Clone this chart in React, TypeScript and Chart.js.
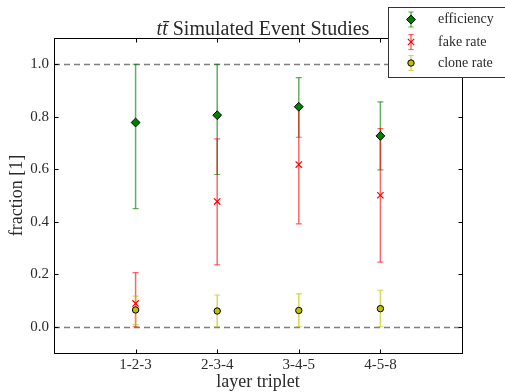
import React, { useEffect, useRef } from 'react';
import { Chart, registerables } from 'chart.js';

Chart.register(...registerables);

const categories = ['1-2-3', '2-3-4', '3-4-5', '4-5-8'];
const xPositions = [1, 2, 3, 4];

const efficiency = [0.778, 0.806, 0.838, 0.727];
const efficiencyLow = [0.45, 0.58, 0.722, 0.598];
const efficiencyHigh = [1.0, 1.0, 0.949, 0.857];

const fakeRate = [0.089, 0.477, 0.618, 0.501];
const fakeRateLow = [0.0, 0.236, 0.392, 0.246];
const fakeRateHigh = [0.206, 0.716, 0.838, 0.755];

const cloneRate = [0.064, 0.06, 0.062, 0.069];
const cloneRateLow = [0.008, 0.0, 0.0, 0.0];
const cloneRateHigh = [0.117, 0.121, 0.125, 0.139];

const yTicks = [0, 0.2, 0.4, 0.6, 0.8, 1.0];
const referenceLines = [0, 1];

const titleItalic = 'tt\u0304';
const titleRest = ' Simulated Event Studies';
const xTitle = 'layer triplet';
const yTitle = 'fraction [1]';

const SERIF = '"Liberation Serif", "Times New Roman", serif';
const TEXT = '#2a2a2a';

type Series = {
  label: string;
  values: number[];
  low: number[];
  high: number[];
  style: string;
  radius: number;
  fill: string;
  stroke: string;
  borderWidth: number;
  barColor: string;
};

const series: Series[] = [
  { label: 'efficiency', values: efficiency, low: efficiencyLow, high: efficiencyHigh, style: 'rectRot', radius: 4.4, fill: '#008000', stroke: '#000000', borderWidth: 1, barColor: 'rgba(0,128,0,0.62)' },
  { label: 'fake rate', values: fakeRate, low: fakeRateLow, high: fakeRateHigh, style: 'crossRot', radius: 4.5, fill: '#ff0000', stroke: '#ff0000', borderWidth: 1.2, barColor: 'rgba(255,0,0,0.6)' },
  { label: 'clone rate', values: cloneRate, low: cloneRateLow, high: cloneRateHigh, style: 'circle', radius: 3.2, fill: '#bfbf00', stroke: '#000000', borderWidth: 1, barColor: 'rgba(191,191,0,0.62)' },
];

function drawMarker(ctx: CanvasRenderingContext2D, s: Series, x: number, y: number) {
  ctx.save();
  ctx.beginPath();
  const r = s.radius;
  if (s.style === 'rectRot') {
    ctx.moveTo(x - r, y);
    ctx.lineTo(x, y - r);
    ctx.lineTo(x + r, y);
    ctx.lineTo(x, y + r);
    ctx.closePath();
    ctx.fillStyle = s.fill;
    ctx.fill();
    ctx.lineWidth = s.borderWidth;
    ctx.strokeStyle = s.stroke;
    ctx.stroke();
  } else if (s.style === 'crossRot') {
    const o = r * Math.SQRT1_2;
    ctx.moveTo(x - o, y - o);
    ctx.lineTo(x + o, y + o);
    ctx.moveTo(x - o, y + o);
    ctx.lineTo(x + o, y - o);
    ctx.lineWidth = s.borderWidth;
    ctx.strokeStyle = s.stroke;
    ctx.stroke();
  } else {
    ctx.arc(x, y, r, 0, Math.PI * 2);
    ctx.fillStyle = s.fill;
    ctx.fill();
    ctx.lineWidth = s.borderWidth;
    ctx.strokeStyle = s.stroke;
    ctx.stroke();
  }
  ctx.restore();
}

function drawErrorBar(ctx: CanvasRenderingContext2D, color: string, x: number, yTop: number, yBot: number, cap: number) {
  ctx.save();
  ctx.strokeStyle = color;
  ctx.lineWidth = 1.5;
  ctx.beginPath();
  ctx.moveTo(x, yTop);
  ctx.lineTo(x, yBot);
  ctx.stroke();
  ctx.lineWidth = 1.2;
  ctx.beginPath();
  ctx.moveTo(x - cap, yTop);
  ctx.lineTo(x + cap, yTop);
  ctx.moveTo(x - cap, yBot);
  ctx.lineTo(x + cap, yBot);
  ctx.stroke();
  ctx.restore();
}

const decorPlugin = {
  id: 'decor',
  beforeDatasetsDraw(chart: any) {
    const { ctx, chartArea, scales } = chart;
    const xs = scales.x;
    const ys = scales.y;
    ctx.save();
    ctx.beginPath();
    ctx.rect(chartArea.left, chartArea.top, chartArea.right - chartArea.left, chartArea.bottom - chartArea.top);
    ctx.clip();
    ctx.strokeStyle = '#7f7f7f';
    ctx.lineWidth = 1.6;
    ctx.setLineDash([6, 4]);
    referenceLines.forEach((v) => {
      const py = Math.round(ys.getPixelForValue(v)) + 0.5;
      ctx.beginPath();
      ctx.moveTo(chartArea.left, py);
      ctx.lineTo(chartArea.right, py);
      ctx.stroke();
    });
    ctx.setLineDash([]);
    series.forEach((s) => {
      s.values.forEach((_, i) => {
        const px = xs.getPixelForValue(xPositions[i]);
        drawErrorBar(ctx, s.barColor, px, ys.getPixelForValue(s.high[i]), ys.getPixelForValue(s.low[i]), 3);
      });
    });
    ctx.restore();
  },
  afterDatasetsDraw(chart: any) {
    const { ctx, chartArea, scales } = chart;
    const xs = scales.x;
    const ys = scales.y;
    const l = Math.round(chartArea.left) + 0.5;
    const r = Math.round(chartArea.right) + 0.5;
    const t = Math.round(chartArea.top) + 0.5;
    const b = Math.round(chartArea.bottom) + 0.5;
    ctx.save();
    ctx.strokeStyle = '#000';
    ctx.lineWidth = 1;
    ctx.strokeRect(l, t, r - l, b - t);
    ctx.beginPath();
    const tl = 4;
    yTicks.forEach((v) => {
      const py = Math.round(ys.getPixelForValue(v)) + 0.5;
      ctx.moveTo(l, py);
      ctx.lineTo(l + tl, py);
      ctx.moveTo(r, py);
      ctx.lineTo(r - tl, py);
    });
    xPositions.forEach((v) => {
      const px = Math.round(xs.getPixelForValue(v)) + 0.5;
      ctx.moveTo(px, b);
      ctx.lineTo(px, b - tl);
      ctx.moveTo(px, t);
      ctx.lineTo(px, t + tl);
    });
    ctx.stroke();
    ctx.restore();
  },
  afterDraw(chart: any) {
    const { ctx, chartArea } = chart;
    ctx.save();
    const italicFont = `italic 20px ${SERIF}`;
    const normalFont = `20px ${SERIF}`;
    ctx.font = italicFont;
    const w1 = ctx.measureText(titleItalic).width;
    ctx.font = normalFont;
    const w2 = ctx.measureText(titleRest).width;
    const cx = (chartArea.left + chartArea.right) / 2 + 5;
    const startX = cx - (w1 + w2) / 2;
    const baseY = 35;
    ctx.fillStyle = TEXT;
    ctx.textBaseline = 'alphabetic';
    ctx.textAlign = 'left';
    ctx.font = italicFont;
    ctx.fillText(titleItalic, startX, baseY);
    ctx.font = normalFont;
    ctx.fillText(titleRest, startX + w1, baseY);

    const bx = 388.5;
    const by = 7.5;
    const bw = 130;
    const bh = 70;
    ctx.fillStyle = '#ffffff';
    ctx.fillRect(bx, by, bw, bh);
    ctx.strokeStyle = '#333333';
    ctx.lineWidth = 1;
    ctx.strokeRect(bx, by, bw, bh);
    const rows = [19.5, 42, 63];
    series.forEach((s, i) => {
      const my = rows[i];
      const mx = 411;
      drawErrorBar(ctx, s.barColor, mx, my - 7.5, my + 7.5, 2.7);
      drawMarker(ctx, s, mx, my);
      ctx.fillStyle = TEXT;
      ctx.font = `14px ${SERIF}`;
      ctx.textBaseline = 'middle';
      ctx.textAlign = 'left';
      ctx.fillText(s.label, 438, my);
    });
    ctx.restore();
  },
};

export default function App() {
  const canvasRef = useRef<HTMLCanvasElement | null>(null);

  useEffect(() => {
    const canvas = canvasRef.current;
    if (!canvas) return;
    const datasets = series.map((s) => ({
      label: s.label,
      data: s.values.map((v, i) => ({ x: xPositions[i], y: v })),
      pointStyle: s.style,
      pointRadius: s.radius,
      pointBackgroundColor: s.fill,
      pointBorderColor: s.stroke,
      pointBorderWidth: s.borderWidth,
      showLine: false,
    }));
    const chart = new Chart(canvas, {
      type: 'scatter',
      data: { datasets },
      plugins: [decorPlugin],
      options: {
        responsive: false,
        animation: false,
        events: [],
        layout: { padding: { top: 38, right: 43, left: 0, bottom: 0 } },
        plugins: {
          legend: { display: false },
          tooltip: { enabled: false },
          title: { display: false },
        },
        scales: {
          x: {
            type: 'linear',
            min: 0,
            max: 5,
            afterBuildTicks: (s: any) => {
              s.ticks = xPositions.map((v) => ({ value: v }));
            },
            afterFit: (s: any) => {
              s.height = 39;
            },
            ticks: {
              callback: (v: any) => categories[xPositions.indexOf(Number(v))] ?? '',
              font: { family: SERIF, size: 15 },
              color: TEXT,
              padding: 3,
              maxRotation: 0,
              autoSkip: false,
            },
            grid: { display: false, drawTicks: false, tickLength: 0 },
            border: { display: false },
            title: {
              display: true,
              text: xTitle,
              font: { family: SERIF, size: 18 },
              color: TEXT,
              padding: { top: 0, bottom: -1.5 },
            },
          },
          y: {
            type: 'linear',
            min: -0.1,
            max: 1.1,
            afterBuildTicks: (s: any) => {
              s.ticks = yTicks.map((v) => ({ value: v }));
            },
            afterFit: (s: any) => {
              s.width = 54;
            },
            ticks: {
              callback: (v: any) => Number(v).toFixed(1),
              font: { family: SERIF, size: 15 },
              color: TEXT,
              padding: 5,
            },
            grid: { display: false, drawTicks: false, tickLength: 0 },
            border: { display: false },
            title: {
              display: true,
              text: yTitle,
              font: { family: SERIF, size: 18 },
              color: TEXT,
              padding: { top: 6, bottom: 0 },
            },
          },
        },
      },
    } as any);
    return () => chart.destroy();
  }, []);

  return (
    <div style={{ position: 'fixed', left: 0, top: 0, width: 505, height: 392, background: '#fff' }}>
      <canvas ref={canvasRef} width={505} height={392} style={{ display: 'block' }} />
    </div>
  );
}
